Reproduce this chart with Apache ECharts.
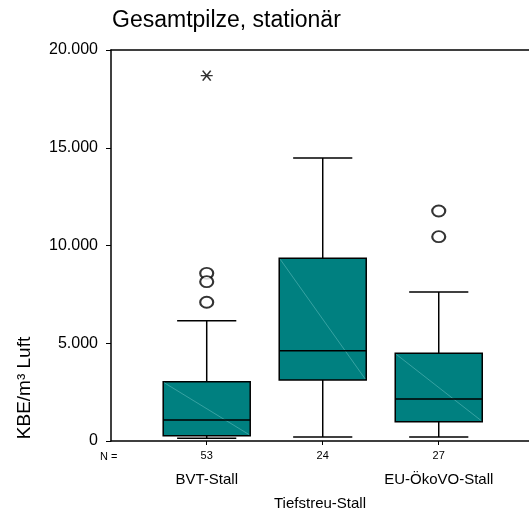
<!DOCTYPE html>
<html>
<head>
<meta charset="utf-8">
<script src="https://cdn.jsdelivr.net/npm/echarts@6/dist/echarts.min.js"></script>
<style>
html,body{margin:0;padding:0;background:#fff;}
#chart{width:529px;height:513px;}
</style>
</head>
<body>
<div id="chart"></div>
<script>
// ---- data ----
const categories = ['BVT-Stall', '', 'EU-ÖkoVO-Stall'];
const nValues = [53, 24, 27];
const whiskerLow = [137, 205, 205];
const q1 = [272, 3120, 989];
const median = [1074, 4620, 2148];
const q3 = [3033, 9344, 4484];
const whiskerHigh = [6155, 14476, 7621];
const outlierCat = [0, 0, 0, 2, 2];
const outlierVal = [8577, 8150, 7095, 11765, 10450];
const extremeCat = [0];
const extremeVal = [18690];
const yTicks = [0, 5000, 10000, 15000, 20000];

const FONT = "'Liberation Sans', Arial, sans-serif";
const TEAL = '#008080';

const boxData = categories.map((c, i) => [i + 1, whiskerLow[i], q1[i], median[i], q3[i], whiskerHigh[i]]);
const outData = outlierCat.map((c, i) => [c + 1, outlierVal[i]]);
const extData = extremeCat.map((c, i) => [c + 1, extremeVal[i]]);

function fmtThousands(v) {
  return String(v).replace(/\B(?=(\d{3})+(?!\d))/g, '.');
}

function renderBox(params, api) {
  const x = api.value(0);
  const bh = 0.375, ch = 0.255;
  const lo = api.value(1), a = api.value(2), m = api.value(3), b = api.value(4), hi = api.value(5);
  const tl = api.coord([x - bh, b]);
  const br = api.coord([x + bh, a]);
  const mL = api.coord([x - bh, m]);
  const mR = api.coord([x + bh, m]);
  const cTop = api.coord([x, b]);
  const cHi = api.coord([x, hi]);
  const cBot = api.coord([x, a]);
  const cLo = api.coord([x, lo]);
  const capHiL = api.coord([x - ch, hi]);
  const capHiR = api.coord([x + ch, hi]);
  const capLoL = api.coord([x - ch, lo]);
  const capLoR = api.coord([x + ch, lo]);
  const line = (p1, p2, w, col) => ({
    type: 'line',
    shape: { x1: p1[0], y1: p1[1], x2: p2[0], y2: p2[1] },
    style: { stroke: col || '#000', lineWidth: w || 1.5 }
  });
  return {
    type: 'group',
    children: [
      line(cTop, cHi),
      line(cBot, cLo),
      line(capHiL, capHiR),
      line(capLoL, capLoR),
      {
        type: 'rect',
        shape: { x: tl[0], y: tl[1], width: br[0] - tl[0], height: br[1] - tl[1] },
        style: { fill: TEAL, stroke: '#000', lineWidth: 1.5 }
      },
      line([tl[0] + 1, tl[1] + 1], [br[0] - 1, br[1] - 1], 0.6, '#5cb8b8'),
      line(mL, mR, 1.5)
    ]
  };
}

const chart = echarts.init(document.getElementById('chart'), null, { renderer: 'canvas' });
chart.setOption({
  animation: false,
  backgroundColor: '#fff',
  textStyle: { fontFamily: FONT },
  title: {
    text: 'Gesamtpilze, stationär',
    left: 107, top: 4,
    textStyle: { fontFamily: FONT, fontSize: 23, fontWeight: 'normal', color: '#000' }
  },
  grid: { left: 111, right: 0, top: 50, bottom: 72, containLabel: false, outerBoundsMode: 'none' },
  xAxis: [
    {
      type: 'value', min: 0.175, max: 3.778, position: 'bottom',
      splitLine: { show: false },
      axisLine: { show: true, onZero: false, lineStyle: { color: '#000', width: 1.5 } },
      axisTick: { show: true, length: 4, customValues: [1, 2, 3], lineStyle: { color: '#000', width: 1 } },
      axisLabel: {
        show: true, customValues: [1, 2, 3], margin: 9,
        fontFamily: FONT, fontSize: 11, color: '#000',
        formatter: v => String(nValues[Math.round(v) - 1])
      }
    },
    {
      type: 'value', min: 0.175, max: 3.778, position: 'bottom', offset: 0,
      splitLine: { show: false },
      axisLine: { show: false },
      axisTick: { show: false },
      axisLabel: {
        show: true, customValues: [1, 2, 3], margin: 31,
        fontFamily: FONT, fontSize: 15, color: '#000',
        formatter: v => categories[Math.round(v) - 1]
      },
      name: 'Tiefstreu-Stall', nameLocation: 'middle', nameGap: 55,
      nameTextStyle: { fontFamily: FONT, fontSize: 15, color: '#000' }
    },
    {
      type: 'value', min: 0.175, max: 3.778, position: 'top',
      splitLine: { show: false },
      axisLine: { show: true, lineStyle: { color: '#000', width: 1.5 } },
      axisTick: { show: false },
      axisLabel: { show: false }
    }
  ],
  yAxis: {
    type: 'value', min: 0, max: 20000, interval: 5000,
    splitLine: { show: false },
    axisLine: { show: true, onZero: false, lineStyle: { color: '#000', width: 1.5 } },
    axisTick: { show: true, inside: false, length: 5, customValues: yTicks, lineStyle: { color: '#000', width: 1 } },
    axisLabel: {
      margin: 13, fontFamily: FONT, fontSize: 16, color: '#000',
      formatter: v => fmtThousands(v)
    }
  },
  graphic: [
    {
      type: 'text', left: 100, top: 451,
      style: { text: 'N =', fontFamily: FONT, fontSize: 11, fill: '#000' }
    },
    {
      type: 'text', x: 25, y: 388, rotation: Math.PI / 2,
      style: { text: 'KBE/m³ Luft', fontFamily: FONT, fontSize: 19, fill: '#000', align: 'center', verticalAlign: 'middle' }
    }
  ],
  series: [
    {
      type: 'custom', xAxisIndex: 0, yAxisIndex: 0,
      renderItem: renderBox, data: boxData, z: 2
    },
    {
      type: 'scatter', xAxisIndex: 0, yAxisIndex: 0,
      symbol: 'emptyCircle', symbolSize: [13, 11],
      itemStyle: { color: '#000', borderColor: '#000', borderWidth: 1.5 },
      data: outData, z: 3
    },
    {
      type: 'scatter', xAxisIndex: 0, yAxisIndex: 0,
      symbol: 'path://M-6,0L6,0M-4,-5L4,5M-4,5L4,-5', symbolSize: [12, 10],
      itemStyle: { color: 'none', borderColor: '#000', borderWidth: 1.5 },
      data: extData, z: 3
    }
  ]
});
</script>
</body>
</html>
